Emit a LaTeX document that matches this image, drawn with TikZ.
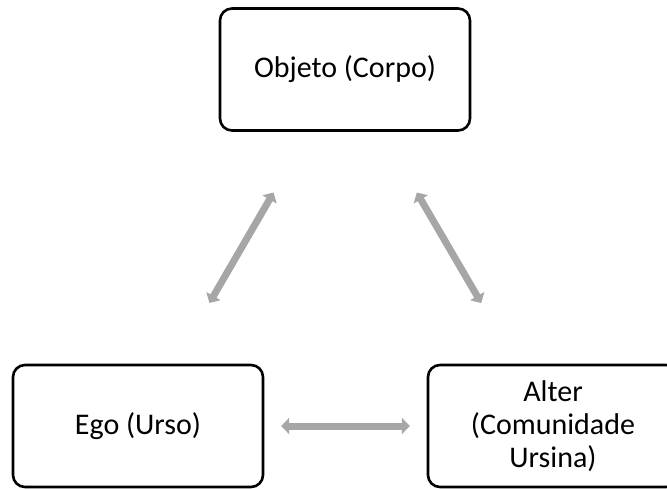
\documentclass[tikz,border=0pt]{standalone}
\usepackage{fontspec}
\setmainfont{Carlito}
\usetikzlibrary{arrows.meta,calc}
\definecolor{linkgray}{HTML}{A6A6A6}
\tikzset{
  conceptbox/.style={draw=black, line width=2.6pt, rounded corners=12pt,
    minimum width=250pt, minimum height=122pt, inner sep=0pt,
    align=center, font=\fontsize{30}{33}\selectfont},
  relation/.style={draw=linkgray, line width=7pt,
    {Triangle[length=8pt,width=16pt]}-{Triangle[length=8pt,width=16pt]}}
}
\begin{document}
\begin{tikzpicture}[x=1pt,y=-1pt]
  \useasboundingbox (0,0) rectangle (667,488);
  % the three poles of the relation
  \node[conceptbox] (obj) at (345,69.5) {Objeto (Corpo)};
  \node[conceptbox] (ego) at (138,426) {Ego (Urso)};
  \node[conceptbox] (alter) at (553,426) {Alter\\(Comunidade\\Ursina)};
  % two-way links, centred on the lines joining the boxes
  \draw[relation] ($(obj)!0.345!(ego)$) -- ($(obj)!0.655!(ego)$);
  \draw[relation] ($(obj)!0.345!(alter)$) -- ($(obj)!0.655!(alter)$);
  \draw[relation] ($(ego)!0.345!(alter)$) -- ($(ego)!0.655!(alter)$);
\end{tikzpicture}
\end{document}
